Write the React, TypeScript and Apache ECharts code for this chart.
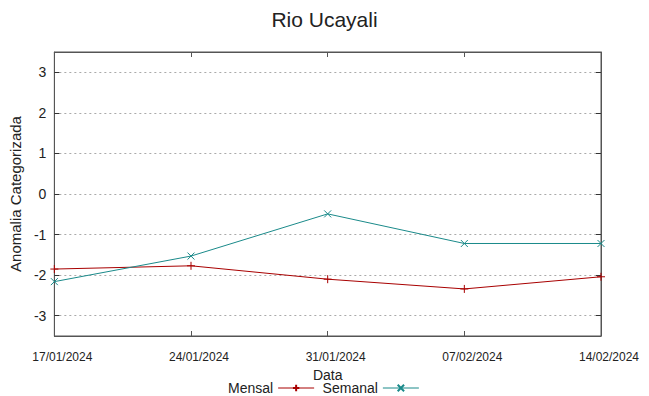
import React, { useEffect, useRef } from "react";
import * as echarts from "echarts";

const dates = ["17/01/2024", "24/01/2024", "31/01/2024", "07/02/2024", "14/02/2024"];
const mensal = [-1.85, -1.77, -2.1, -2.34, -2.04];
const semanal = [-2.16, -1.53, -0.49, -1.22, -1.22];
const yTicks = [-3, -2, -1, 0, 1, 2, 3];

const SANS = "'Liberation Sans', Arial, sans-serif";

export default function App() {
  const ref = useRef<HTMLDivElement>(null);
  useEffect(() => {
    if (!ref.current) return;
    const chart = echarts.init(ref.current, null, { renderer: "svg" });
    const plus = "path://M0,5L10,5M5,0L5,10";
    const cross = "path://M0,0L10,10M0,10L10,0";
    chart.setOption({
      animation: false,
      backgroundColor: "#ffffff",
      title: {
        text: "Rio Ucayali",
        left: "center",
        top: 4,
        textStyle: { fontFamily: SANS, fontSize: 21, fontWeight: "normal", color: "#222" },
      },
      grid: {
        left: 50,
        right: 48,
        top: 52,
        bottom: 60,
        show: true,
        borderColor: "#555",
        borderWidth: 1,
        backgroundColor: "transparent",
      },
      legend: {
        left: 223,
        top: 376,
        align: "right",
        itemWidth: 36,
        itemHeight: 8,
        itemGap: 8,
        lineStyle: { width: 1 },
        textStyle: { fontFamily: SANS, fontSize: 14, lineHeight: 14, color: "#222" },
        data: ["Mensal", "Semanal"],
      },
      xAxis: [
        {
          type: "category",
          data: dates,
          boundaryGap: false,
          position: "bottom",
          name: "Data",
          nameLocation: "middle",
          nameGap: 17,
          nameTextStyle: { fontFamily: SANS, fontSize: 14, lineHeight: 14, color: "#222" },
          axisLine: { show: true, onZero: false, lineStyle: { color: "#555" } },
          axisTick: { show: true, inside: true, length: 5, lineStyle: { color: "#555" } },
          axisLabel: {
            fontFamily: SANS,
            fontSize: 12,
            color: "#222",
            margin: 15,
            padding: [0, 0, 0, 16],
          },
          splitLine: { show: false },
        },
        {
          type: "category",
          data: dates,
          boundaryGap: false,
          position: "top",
          axisLine: { show: true, onZero: false, lineStyle: { color: "#555" } },
          axisTick: { show: true, inside: true, length: 5, lineStyle: { color: "#555" } },
          axisLabel: { show: false },
          splitLine: { show: false },
        },
      ],
      yAxis: [
        {
          type: "value",
          min: -3.5,
          max: 3.5,
          position: "left",
          name: "Anomalia Categorizada",
          nameLocation: "middle",
          nameGap: 25,
          nameTextStyle: { fontFamily: SANS, fontSize: 15, color: "#222" },
          axisLine: { show: true, onZero: false, lineStyle: { color: "#555" } },
          axisTick: {
            show: true,
            inside: true,
            length: 5,
            customValues: yTicks,
            lineStyle: { color: "#333" },
          },
          axisLabel: {
            fontFamily: SANS,
            fontSize: 14,
            color: "#222",
            margin: 8,
            customValues: yTicks,
          },
          splitLine: {
            show: true,
            lineStyle: { color: "#aaa", type: [2, 3], width: 1 },
          },
        },
        {
          type: "value",
          min: -3.5,
          max: 3.5,
          position: "right",
          axisLine: { show: true, onZero: false, lineStyle: { color: "#555" } },
          axisTick: {
            show: true,
            inside: true,
            length: 5,
            customValues: yTicks,
            lineStyle: { color: "#333" },
          },
          axisLabel: { show: false },
          splitLine: { show: false },
        },
      ],
      series: [
        {
          name: "Mensal",
          type: "line",
          data: mensal,
          xAxisIndex: 0,
          yAxisIndex: 0,
          symbol: plus,
          symbolSize: 8,
          showAllSymbol: true,
          lineStyle: { color: "#a80000", width: 1 },
          itemStyle: { color: "#a80000", borderColor: "#a80000", borderWidth: 1 },
        },
        {
          name: "Semanal",
          type: "line",
          data: semanal,
          xAxisIndex: 0,
          yAxisIndex: 0,
          symbol: cross,
          symbolSize: 7,
          showAllSymbol: true,
          lineStyle: { color: "#1a8a8a", width: 1 },
          itemStyle: { color: "#1a8a8a", borderColor: "#1a8a8a", borderWidth: 1 },
        },
      ],
    });
    return () => chart.dispose();
  }, []);
  return (
    <div
      ref={ref}
      style={{ position: "fixed", left: 0, top: 0, width: 649, height: 396, background: "#fff" }}
    />
  );
}
